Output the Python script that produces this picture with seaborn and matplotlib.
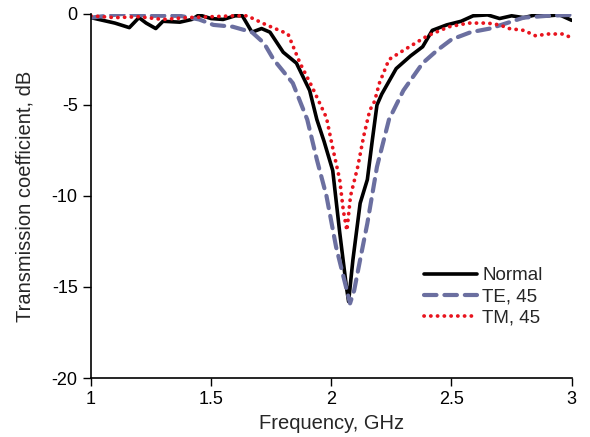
import numpy as np
import pandas as pd
import seaborn as sns
import matplotlib.pyplot as plt

# frequency (GHz) and transmission (dB)
freq_normal = [1.0, 1.05, 1.1, 1.16, 1.2, 1.23, 1.27, 1.3, 1.37, 1.42, 1.45, 1.5, 1.55, 1.6, 1.63,
               1.67, 1.71, 1.745, 1.8, 1.855, 1.91, 1.94, 1.97, 2.006, 2.035, 2.063, 2.072,
               2.09, 2.12, 2.15, 2.17, 2.19, 2.21, 2.27, 2.33, 2.38, 2.42, 2.48, 2.54, 2.59,
               2.65, 2.7, 2.75, 2.8, 2.85, 2.9, 2.95, 3.0]
db_normal = [-0.2, -0.35, -0.5, -0.75, -0.2, -0.5, -0.8, -0.4, -0.45, -0.3, -0.05, -0.25, -0.3, -0.1, -0.1,
             -1.0, -0.8, -1.0, -2.1, -2.7, -4.2, -5.8, -7.0, -8.6, -12.0, -15.0, -15.8,
             -13.5, -10.4, -9.1, -7.0, -5.0, -4.4, -3.0, -2.3, -1.8, -0.9, -0.6, -0.4, -0.1,
             -0.05, -0.25, -0.1, -0.2, -0.05, -0.1, -0.05, -0.35]

freq_te = [1.0, 1.13, 1.25, 1.37, 1.45, 1.51, 1.59, 1.67, 1.72, 1.76, 1.84, 1.9, 1.94, 1.98, 2.02,
           2.065, 2.078, 2.095, 2.12, 2.15, 2.19, 2.24, 2.3, 2.38, 2.44, 2.5, 2.58, 2.66, 2.73,
           2.8, 2.9, 3.0]
db_te = [-0.2, 0.0, -0.1, -0.1, -0.3, -0.6, -0.7, -1.0, -1.6, -2.5, -3.8, -5.8, -8.0, -10.0, -12.8,
         -15.2, -15.9, -15.2, -13.5, -11.5, -8.4, -5.8, -4.2, -2.7, -2.0, -1.4, -1.0, -0.8, -0.5,
         -0.2, -0.1, -0.05]

freq_tm = [1.0, 1.1, 1.2, 1.3, 1.4, 1.5, 1.6, 1.65, 1.73, 1.82, 1.87, 1.92, 1.98, 2.005, 2.035,
           2.05, 2.065, 2.08, 2.11, 2.135, 2.16, 2.18, 2.2, 2.24, 2.3, 2.4, 2.49, 2.57, 2.65,
           2.7, 2.74, 2.8, 2.85, 2.9, 2.96, 3.0]
db_tm = [-0.1, -0.2, -0.15, -0.3, -0.2, -0.15, -0.1, -0.1, -0.6, -1.1, -2.7, -4.0, -5.7, -7.3, -9.1,
         -10.8, -11.9, -10.0, -8.4, -6.7, -5.3, -4.8, -3.8, -2.5, -2.0, -1.2, -0.7, -0.5, -0.5,
         -0.6, -0.8, -0.9, -1.2, -1.1, -1.1, -1.3]

labels = ['Normal', 'TE, 45', 'TM, 45']

sns.set_style('ticks')
plt.rcParams['font.family'] = ['Liberation Sans', 'DejaVu Sans']
plt.rcParams['axes.unicode_minus'] = False

fig = plt.figure(figsize=(5.9, 4.37), dpi=100)
ax = fig.add_axes([0.154, 0.135, 0.815, 0.833])

sns.lineplot(x=freq_normal, y=db_normal, color='black', linewidth=2.6, label=labels[0], ax=ax)
sns.lineplot(x=freq_te, y=db_te, color='#6B6FA0', linewidth=3.0, label=labels[1], ax=ax,
             linestyle=(0, (3.0, 1.9)), dash_capstyle='round')
sns.lineplot(x=freq_tm, y=db_tm, color='#E8141E', linewidth=2.7, label=labels[2], ax=ax,
             linestyle=(0, (0.05, 1.75)), dash_capstyle='round')

ax.set_xlim(1, 3)
ax.set_ylim(-20, 0)
ax.set_xticks([1, 1.5, 2, 2.5, 3])
ax.set_xticklabels(['1', '1.5', '2', '2.5', '3'])
ax.set_yticks([0, -5, -10, -15, -20])
ax.tick_params(labelsize=13, length=6, width=1, direction='out', colors='black')
ax.set_xlabel('Frequency, GHz', fontsize=14.5)
ax.set_ylabel('Transmission coefficient, dB', fontsize=14.5, labelpad=12)
sns.despine(ax=ax)
for s in ['left', 'bottom']:
    ax.spines[s].set_linewidth(1.2)
    ax.spines[s].set_color('black')

leg = ax.legend(loc='upper left', bbox_to_anchor=(0.674, 0.33), frameon=False, fontsize=13.5,
                handlelength=2.8, handletextpad=0.3, labelspacing=0.2, borderpad=0)

fig.savefig('out.png', dpi=100)
